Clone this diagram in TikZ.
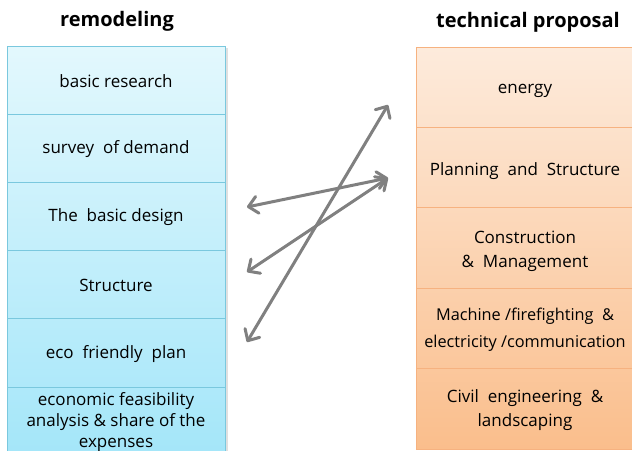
\documentclass[tikz,border=0pt]{standalone}
\usepackage{fontspec}
\setmainfont{Open Sans}
\usetikzlibrary{arrows.meta}
\definecolor{lA}{RGB}{227,248,253}
\definecolor{lB}{RGB}{164,230,249}
\definecolor{lLine}{RGB}{122,200,222}
\definecolor{rA}{RGB}{253,235,220}
\definecolor{rB}{RGB}{250,190,140}
\definecolor{rLine}{RGB}{246,178,128}
\definecolor{arrgray}{RGB}{128,128,128}
\tikzset{
  lbox/.style={draw=lLine, line width=0.8pt, minimum width=218pt, minimum height=68.2pt, inner sep=0pt},
  rbox/.style={draw=rLine, line width=0.8pt, minimum width=218pt, minimum height=80.4pt, inner sep=0pt},
  ltext/.style={font=\fontsize{17}{21}\selectfont, align=center, text=black, inner sep=0pt},
  rtext/.style={font=\fontsize{17}{24}\selectfont, align=center, text=black, inner sep=0pt},
  title/.style={font=\bfseries\fontsize{20}{24}\selectfont},
  dblarrow/.style={draw=arrgray, line width=3pt, line cap=round,
    {Straight Barb[length=9pt,width=17pt,line cap=round,line join=round]}-{Straight Barb[length=9pt,width=17pt,line cap=round,line join=round]}}
}
\begin{document}
\begin{tikzpicture}[x=1pt,y=-1pt]
\useasboundingbox (0,0) rectangle (632,450);
\clip (0,0) rectangle (632,450);
\fill[white] (0,0) rectangle (632,450);
% titles
\node[title] (tl) at (117,21) {remodeling};
\node[title] (tr) at (528,22) {technical proposal};
% left column shadow
\fill[black!12] (225,48) rectangle (228,460);
% left column boxes
\node[lbox, top color=lA, bottom color=lB!17!lA] (l1) at (116,80.1) {};
\node[lbox, top color=lB!17!lA, bottom color=lB!33!lA] (l2) at (116,148.3) {};
\node[lbox, top color=lB!33!lA, bottom color=lB!50!lA] (l3) at (116,216.5) {};
\node[lbox, top color=lB!50!lA, bottom color=lB!67!lA] (l4) at (116,284.7) {};
\node[lbox, top color=lB!67!lA, bottom color=lB!83!lA] (l5) at (116,352.9) {};
\node[lbox, top color=lB!83!lA, bottom color=lB] (l6) at (116,421.1) {};
% left texts
\node[ltext] (t1) at ([yshift=-1pt]l1.center) {basic research};
\node[ltext] (t2) at ([yshift=-1pt]l2.center) {survey\ \ of demand};
\node[ltext] (t3) at ([yshift=-1pt]l3.center) {The\ \ basic design};
\node[ltext] (t4) at ([yshift=-1pt]l4.center) {Structure};
\node[ltext] (t5) at ([yshift=-1pt]l5.center) {eco\ \ friendly\ \ plan};
\node[ltext] (t6) at ([yshift=-1pt]l6.center) {economic feasibility\\analysis \& share of the\\expenses};
% right column boxes
\node[rbox, top color=rA, bottom color=rB!20!rA] (r1) at (525,87.2) {};
\node[rbox, top color=rB!20!rA, bottom color=rB!40!rA] (r2) at (525,167.6) {};
\node[rbox, top color=rB!40!rA, bottom color=rB!60!rA] (r3) at (525,248) {};
\node[rbox, top color=rB!60!rA, bottom color=rB!80!rA] (r4) at (525,328.4) {};
\node[rbox, top color=rB!80!rA, bottom color=rB] (r5) at (525,408.8) {};
% right texts
\node[rtext] (s1) at ([yshift=-3.5pt]r1.center) {energy};
\node[rtext] (s2) at ([yshift=-3.5pt]r2.center) {Planning\ \ and\ \ Structure};
\node[rtext] (s3) at ([yshift=-3pt]r3.center) {Construction\\\&\ \ Management};
\node[rtext, font=\fontsize{16.3}{27}\selectfont] (s4) at ([yshift=-1.5pt]r4.center) {Machine /firefighting\ \ \&\\electricity /communication};
\node[rtext] (s5) at ([yshift=-1.5pt]r5.center) {Civil\ \ engineering\ \ \&\\landscaping};
% arrow ends
\coordinate (a1s) at (247,342);
\coordinate (a1e) at (388,105);
\coordinate (a2s) at (247,207);
\coordinate (a3s) at (247,272);
\coordinate (a23e) at (388,178);
\draw[dblarrow] (a1s) -- (a1e);
\draw[dblarrow] (a2s) -- (a23e);
\draw[dblarrow] (a3s) -- (a23e);
\end{tikzpicture}
\end{document}
